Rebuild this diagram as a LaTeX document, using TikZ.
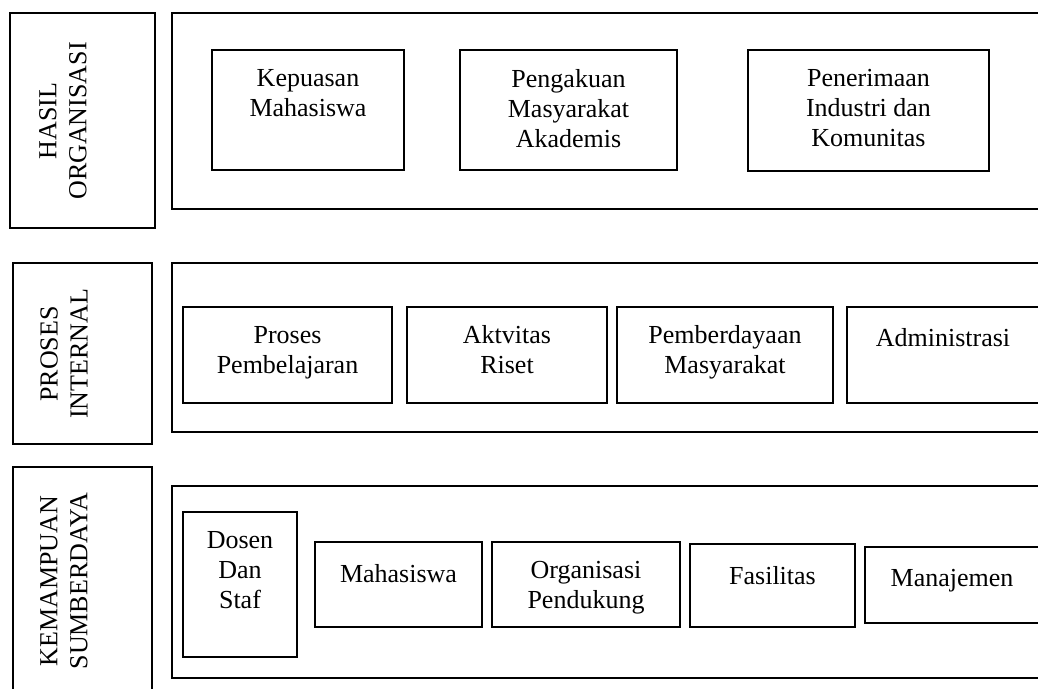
\documentclass[tikz,border=0pt]{standalone}
\usepackage{fontspec}
\setmainfont{Liberation Serif}
\usetikzlibrary{fit}
\begin{document}
\begin{tikzpicture}[x=1pt,y=-1pt,
  frame/.style={draw, line width=1.2pt},
  box/.style={draw, line width=1.2pt, inner sep=0pt},
  txt/.style={font=\fontsize{26}{30}\selectfont, align=center, inner sep=0pt, anchor=north, yshift=-4pt, execute at begin node=\strut},
  lbl/.style={font=\fontsize{26}{30}\selectfont, align=center, inner sep=0pt, rotate=90}]
\useasboundingbox (0,0) rectangle (1038,688);
\clip (0,0) rectangle (1038,688);

% ---------- Row 1: Hasil Organisasi ----------
\node[box, fit={(10,13) (155,228)}] (l1) {};
\node[lbl] (l1t) at (63,121) {HASIL\\ORGANISASI};
\draw[frame] (1050,13) -- (172,13) -- (172,209) -- (1050,209);
\node[box, fit={(212,50) (404,170)}] (b11) {};
\node[txt] (b11t) at (308,65) {Kepuasan\\Mahasiswa};
\node[box, fit={(460,50) (677,170)}] (b12) {};
\node[txt] (b12t) at (568.5,65) {Pengakuan\\Masyarakat\\Akademis};
\node[box, fit={(748,50) (989,171)}] (b13) {};
\node[txt] (b13t) at (868.5,65) {Penerimaan\\Industri dan\\Komunitas};

% ---------- Row 2: Proses Internal ----------
\node[box, fit={(13,263) (152,444)}] (l2) {};
\node[lbl] (l2t) at (64,354) {PROSES\\INTERNAL};
\draw[frame] (1050,263) -- (172,263) -- (172,432) -- (1050,432);
\node[box, fit={(183,307) (392,403)}] (b21) {};
\node[txt] (b21t) at (287.5,322) {Proses\\Pembelajaran};
\node[box, fit={(407,307) (607,403)}] (b22) {};
\node[txt] (b22t) at (507,321) {Aktvitas\\Riset};
\node[box, fit={(617,307) (833,403)}] (b23) {};
\node[txt] (b23t) at (725,321) {Pemberdayaan\\Masyarakat};
\node[box, fit={(847,307) (1060,403)}] (b24) {};
\node[txt] (b24t) at (943,321) {Administrasi};

% ---------- Row 3: Kemampuan Sumberdaya ----------
\node[box, fit={(13,467) (152,700)}] (l3) {};
\node[lbl] (l3t) at (64,581) {KEMAMPUAN\\SUMBERDAYA};
\draw[frame] (1050,486) -- (172,486) -- (172,678) -- (1050,678);
\node[box, fit={(183,512) (297,657)}] (b31) {};
\node[txt] (b31t) at (240,527) {Dosen\\Dan\\Staf};
\node[box, fit={(315,542) (482,627)}] (b32) {};
\node[txt] (b32t) at (398.5,557) {Mahasiswa};
\node[box, fit={(492,542) (680,627)}] (b33) {};
\node[txt] (b33t) at (586,557) {Organisasi\\Pendukung};
\node[box, fit={(690,544) (855,627)}] (b34) {};
\node[txt] (b34t) at (772.5,559) {Fasilitas};
\node[box, fit={(865,547) (1060,623)}] (b35) {};
\node[txt] (b35t) at (952,561) {Manajemen};
\end{tikzpicture}
\end{document}
